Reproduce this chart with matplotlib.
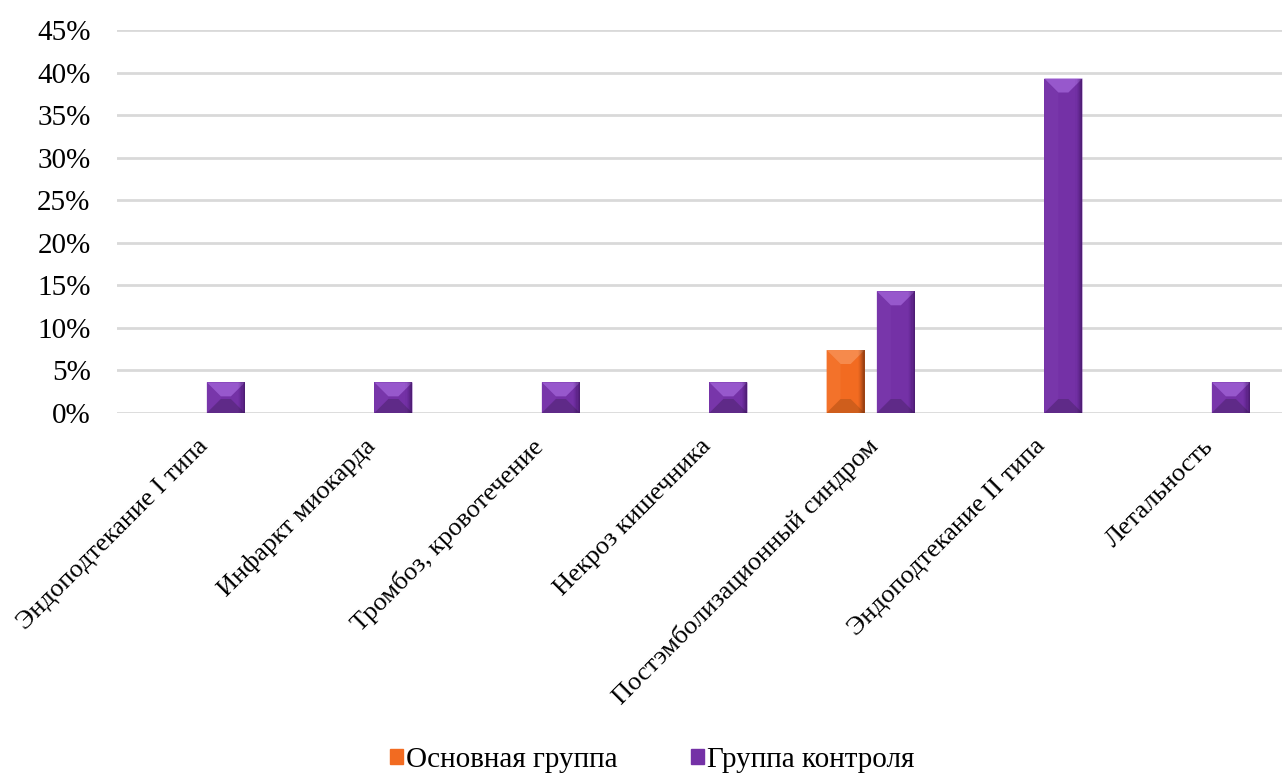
import matplotlib
matplotlib.use("Agg")
import matplotlib.pyplot as plt
from matplotlib.patches import Polygon, Rectangle
import numpy as np

plt.rcParams['font.family'] = ['Liberation Serif', 'DejaVu Serif']

categories = [
    "Эндоподтекание I типа",
    "Инфаркт миокарда",
    "Тромбоз, кровотечение",
    "Некроз кишечника",
    "Постэмболизационный синдром",
    "Эндоподтекание II типа",
    "Летальность",
]
main_group = [0, 0, 0, 0, 7.4, 0, 0]
control_group = [3.6, 3.6, 3.6, 3.6, 14.3, 39.3, 3.6]
series_names = ["Основная группа", "Группа контроля"]
y_ticks = [0, 5, 10, 15, 20, 25, 30, 35, 40, 45]

# face, bevel shades, right-edge shade
orange = dict(face="#F26B21", top="#F68A4C", bottom="#CF5E1C", left="#F3722A", edge="#3A1606")
purple = dict(face="#7431A6", top="#9758CC", bottom="#5F2A88", left="#7836AA", edge="#24093A")

FS = 21
FS_CAT = 19
W, H = 1282, 774
fig = plt.figure(figsize=(W / 100, H / 100), dpi=100)
ax = fig.add_axes([117 / W, (H - 413) / H, 1172.5 / W, 383 / H])

x = np.arange(len(categories))
bw = 0.227
off = 0.15
bars_main = ax.bar(x - off, main_group, bw, color=orange["face"], zorder=3)
bars_ctrl = ax.bar(x + off, control_group, bw, color=purple["face"], zorder=3)

ax.set_xlim(-0.5, len(categories) - 0.5)
ax.set_ylim(0, 45)
ax.set_yticks(y_ticks)
ax.set_yticklabels([f"{t}%" for t in y_ticks], fontsize=FS)
ax.tick_params(axis='y', length=0, pad=19)
ax.set_xticks([])
for s in ax.spines.values():
    s.set_visible(False)
ax.yaxis.grid(True, color="#D9D9D9", linewidth=2, zorder=0)
ax.set_axisbelow(True)

# category labels, rotated 45 degrees, ending at the category position
for i, lab in enumerate(categories):
    ax.annotate(lab, xy=(i, 0), xycoords='data', xytext=(4, -30),
                textcoords='offset pixels', rotation=45, rotation_mode='anchor',
                ha='right', va='center', fontsize=FS_CAT, annotation_clip=False)

inv = ax.transData.inverted()


def bevel(patch, pal, depth=14):
    h = patch.get_height()
    if h <= 0:
        return
    x0, y0 = patch.get_x(), patch.get_y()
    (px0, py0) = ax.transData.transform((x0, y0))
    (px1, py1) = ax.transData.transform((x0 + patch.get_width(), y0 + h))
    w = px1 - px0
    hh = py1 - py0
    d = min(depth, w / 2, hh / 2)

    def poly(pts, color, z=4, alpha=1.0):
        data = inv.transform(np.array(pts))
        ax.add_patch(Polygon(data, closed=True, facecolor=color, edgecolor='none',
                             zorder=z, alpha=alpha))

    # left and right bevels
    poly([(px0, py0), (px0 + d, py0 + d), (px0 + d, py1 - d), (px0, py1)], pal["left"])
    poly([(px1, py0), (px1 - d, py0 + d), (px1 - d, py1 - d), (px1, py1)], pal["face"])
    # top and bottom bevels
    poly([(px0, py1), (px0 + d, py1 - d), (px1 - d, py1 - d), (px1, py1)], pal["top"])
    poly([(px0, py0), (px0 + d, py0 + d), (px1 - d, py0 + d), (px1, py0)], pal["bottom"])
    # darkening toward the right edge
    n = 6
    sw = 7.0
    for k in range(n):
        a = (k + 1) / n
        xa = px1 - sw * (1 - k / n)
        poly([(xa, py0), (px1, py0), (px1, py1), (xa, py1)], pal["edge"], z=5, alpha=0.16 * a)


for p in bars_main:
    bevel(p, orange)
for p in bars_ctrl:
    bevel(p, purple)

handles = [Rectangle((0, 0), 1, 1, color=orange["face"]),
           Rectangle((0, 0), 1, 1, color=purple["face"])]
fig.legend(handles, series_names, loc='center', bbox_to_anchor=(652 / W, 1 - 760 / H),
           ncol=2, frameon=False, fontsize=FS, handlelength=0.45, handleheight=0.45,
           handletextpad=0.1, columnspacing=2.5)

fig.savefig("out.png", dpi=100)
